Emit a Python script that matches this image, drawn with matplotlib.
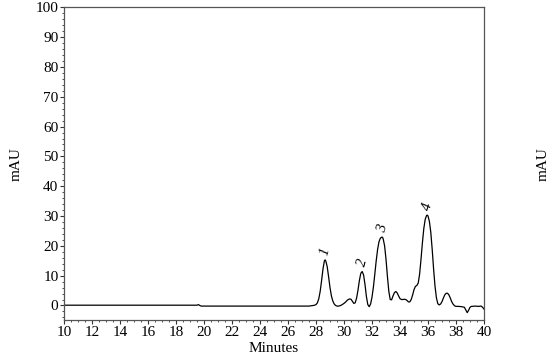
import matplotlib
matplotlib.use("Agg")
import matplotlib.pyplot as plt
from matplotlib.ticker import MultipleLocator

plt.rcParams['font.family'] = ['Liberation Serif', 'DejaVu Serif']

# chromatogram trace (minutes, mAU)
minutes = [10.0, 19.5, 19.6, 19.7, 19.8, 27.5, 27.8, 27.9, 28.0, 28.1, 28.2,
           28.3, 28.4, 28.5, 28.6, 28.65, 28.7, 28.8, 28.9, 29.0, 29.1, 29.2,
           29.3, 29.4, 29.5, 29.6, 29.7, 29.8, 29.9, 30.0, 30.1, 30.2, 30.3,
           30.4, 30.5, 30.6, 30.7, 30.8, 30.9, 31.0, 31.1, 31.2, 31.3, 31.4,
           31.5, 31.6, 31.7, 31.8, 31.9, 32.0, 32.1, 32.2, 32.3, 32.4, 32.5,
           32.6, 32.7, 32.75, 32.8, 32.9, 33.0, 33.1, 33.2, 33.3, 33.4, 33.5,
           33.6, 33.7, 33.8, 33.9, 34.0, 34.1, 34.2, 34.3, 34.4, 34.5, 34.6,
           34.7, 34.8, 34.9, 35.0, 35.1, 35.2, 35.3, 35.4, 35.5, 35.6, 35.7,
           35.8, 35.9, 35.95, 36.0, 36.1, 36.2, 36.3, 36.4, 36.5, 36.6, 36.7,
           36.8, 36.9, 37.0, 37.1, 37.2, 37.3, 37.4, 37.5, 37.6, 37.7, 37.8,
           37.9, 38.0, 38.2, 38.4, 38.6, 38.7, 38.8, 38.9, 39.0, 39.1, 39.4,
           39.6, 39.8, 39.9, 40.0]
mau = [0.1, 0.1, 0.3, 0.0, -0.2, -0.2, 0.0, 0.1, 0.3, 0.9, 2.3,
       4.8, 8.4, 12.3, 15.0, 15.3, 14.9, 13.0, 9.6, 6.0, 3.2, 1.5,
       0.5, 0.0, -0.2, -0.2, -0.1, 0.1, 0.4, 0.7, 1.1, 1.6, 2.0,
       2.2, 2.1, 1.4, 0.7, 0.9, 2.5, 5.2, 8.4, 10.8, 11.4, 10.2,
       7.0, 3.0, 0.3, -0.4, 0.5, 2.8, 6.2, 10.5, 15.0, 18.8, 21.4,
       22.6, 22.9, 22.9, 22.3, 20.0, 15.5, 9.8, 4.8, 2.0, 1.9, 3.2,
       4.3, 4.7, 4.2, 3.2, 2.3, 2.0, 2.0, 2.1, 2.0, 1.7, 1.2,
       1.2, 2.0, 3.5, 5.3, 6.4, 6.7, 7.5, 10.5, 15.5, 21.0, 25.8,
       28.9, 30.2, 30.3, 30.0, 28.2, 24.5, 18.8, 12.2, 6.5, 2.6, 0.6,
       0.2, 0.5, 1.3, 2.5, 3.6, 4.1, 4.1, 3.5, 2.4, 1.2, 0.4,
       -0.1, -0.3, -0.3, -0.4, -0.6, -1.5, -2.4, -1.6, -0.6, -0.3, -0.2,
       -0.3, -0.2, -0.6, -1.2]

peak_labels = ["1", "2", "3", "4"]
peak_x = [28.64, 31.3, 32.75, 35.97]
peak_y = [18.0, 14.3, 25.8, 33.2]

fig = plt.figure(figsize=(5.5, 3.56), dpi=100)
ax = fig.add_axes([0.1164, 0.1, 0.7636, 0.8795])

ax.plot(minutes, mau, color="black", lw=0.9)

for lab, x, y in zip(peak_labels, peak_x, peak_y):
    ax.text(x, y, lab, fontsize=10.5, style="italic", rotation=75,
            ha="center", va="center")

ax.set_xlim(10, 40)
ax.set_ylim(-5, 100)
ax.xaxis.set_major_locator(MultipleLocator(2))
ax.xaxis.set_minor_locator(MultipleLocator(0.5))
ax.yaxis.set_major_locator(MultipleLocator(10))
ax.yaxis.set_minor_locator(MultipleLocator(2))

ax.tick_params(which="both", direction="out", labelsize=11, color="#333333",
               left=True, right=True, labelleft=True, labelright=True)
ax.tick_params(which="major", length=3, width=0.8, pad=1)
ax.tick_params(which="minor", length=1.5, width=0.6)

for s in ax.spines.values():
    s.set_color("#555555")
    s.set_linewidth(0.9)

ax.set_xlabel("Minutes", fontsize=11, labelpad=2)
ax.set_ylabel("mAU", fontsize=11, labelpad=9)
ax2 = ax.twinx()
ax2.set_ylim(ax.get_ylim())
ax2.set_yticks([])
ax2.set_ylabel("mAU", fontsize=11, labelpad=38)
for s in ax2.spines.values():
    s.set_visible(False)

fig.savefig("out.png", dpi=100)
